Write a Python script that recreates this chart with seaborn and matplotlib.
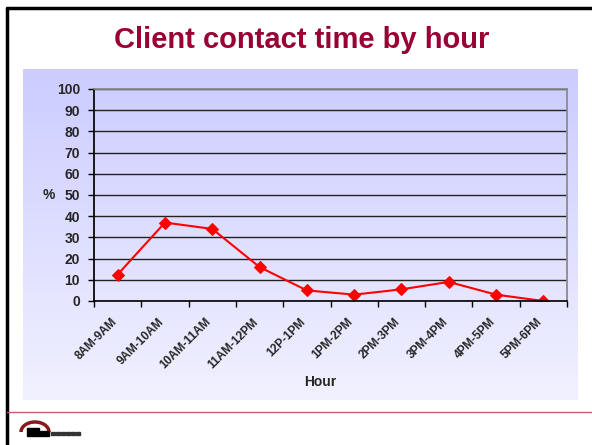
import numpy as np
import pandas as pd
import matplotlib
matplotlib.use("Agg")
import matplotlib.pyplot as plt
import matplotlib.transforms as mtransforms
import seaborn as sns
from matplotlib.patches import Arc, Rectangle
from matplotlib.lines import Line2D

# dados
horas = ["8AM-9AM", "9AM-10AM", "10AM-11AM", "11AM-12PM", "12P-1PM",
         "1PM-2PM", "2PM-3PM", "3PM-4PM", "4PM-5PM", "5PM-6PM"]
percentual = [12.5, 37, 34, 16, 5, 3, 5.5, 9, 3, 0]

df = pd.DataFrame({"Hour": horas, "pct": percentual})

sns.set_theme(style="white")
plt.rcParams["font.family"] = ["Liberation Sans", "DejaVu Sans"]

W, H = 592, 445
fig = plt.figure(figsize=(W / 100, H / 100), dpi=100)
fig.patch.set_facecolor("white")

# fundo em degradê (área do gráfico)
bg = fig.add_axes([23 / W, 1 - 400 / H, (578 - 23) / W, (400 - 69) / H])
grad = np.linspace(0, 1, 256).reshape(-1, 1)
c_top = np.array([0.80, 0.80, 1.0])
c_bot = np.array([0.945, 0.945, 1.0])
img = c_top + (c_bot - c_top) * grad[:, :, None]
bg.imshow(img, aspect="auto", extent=[0, 1, 0, 1])
bg.axis("off")

# área de plotagem
ax = fig.add_axes([94 / W, 1 - 301 / H, (567 - 94) / W, (301 - 89) / H])
ax.patch.set_alpha(0)
sns.lineplot(data=df, x="Hour", y="pct", sort=False, color="#ff0000",
             marker="D", markersize=6, markeredgecolor="#ff0000",
             linewidth=1.5, ax=ax)

ax.set_xlim(-0.5, 9.5)
ax.set_ylim(0, 100)
ax.set_yticks(range(0, 101, 10))
ax.yaxis.grid(True, color="#222222", linewidth=1)
ax.set_axisbelow(True)
for s in ["top", "right"]:
    ax.spines[s].set_color("#888888")
ax.spines["left"].set_color("black")
ax.spines["bottom"].set_color("black")
ax.spines["bottom"].set_linewidth(1.2)

# rótulos do eixo x desenhados à mão (girados, deslocados à esquerda)
ax.set_xticks(range(len(horas)))
ax.set_xticklabels([])
ax.tick_params(axis="x", which="major", length=0)
ax.set_xticks(np.arange(-0.5, 10, 1), minor=True)
ax.tick_params(axis="x", which="minor", length=4, width=1, color="black",
               direction="out", bottom=True)
desloc = mtransforms.ScaledTranslation(-7 / 100, -15 / 100, fig.dpi_scale_trans)
trans = ax.get_xaxis_transform() + desloc
for i, rotulo in enumerate(horas):
    ax.text(i, 0, rotulo, transform=trans, rotation=45, ha="right", va="top",
            rotation_mode="anchor", fontsize=8.5, fontweight="bold",
            clip_on=False)

ax.tick_params(axis="y", length=4, width=1, color="black", direction="out",
               left=True, labelsize=10, pad=6)
for t in ax.get_yticklabels():
    t.set_fontweight("bold")

ax.set_xlabel("")
ax.set_ylabel("")
fig.text(49 / W, 1 - 195 / H, "%", fontsize=10, fontweight="bold",
         ha="center", va="center")
fig.text(320 / W, 1 - 382 / H, "Hour", fontsize=10, fontweight="bold",
         ha="center", va="center")

# título
fig.text(302 / W, 1 - 40 / H, "Client contact time by hour", fontsize=21,
         fontweight="bold", color="#990033", ha="center", va="center")

# moldura do slide e linha inferior
fig.add_artist(Line2D([7 / W, 7 / W], [0, 1 - 8 / H], color="black", linewidth=2.5))
fig.add_artist(Line2D([7 / W, 1], [1 - 8 / H, 1 - 8 / H], color="black", linewidth=2.5))
fig.add_artist(Line2D([7 / W, 1], [1 - 412 / H, 1 - 412 / H], color="#c06070", linewidth=1))

# logotipo simplificado
logo = fig.add_axes([18 / W, 1 - 442 / H, 70 / W, 24 / H])
logo.set_xlim(0, 70)
logo.set_ylim(24, 0)
logo.axis("off")
logo.add_patch(Arc((17, 14), 28, 20, theta1=180, theta2=360, color="#8b1a1a", linewidth=2.5))
logo.add_patch(Rectangle((9, 10), 12, 8, color="black"))
logo.add_patch(Rectangle((21, 13), 10, 5, color="black"))
for i in range(6):
    logo.add_patch(Rectangle((33 + i * 5, 14), 4, 3, color="#333333"))

fig.savefig("out.png", dpi=100)
